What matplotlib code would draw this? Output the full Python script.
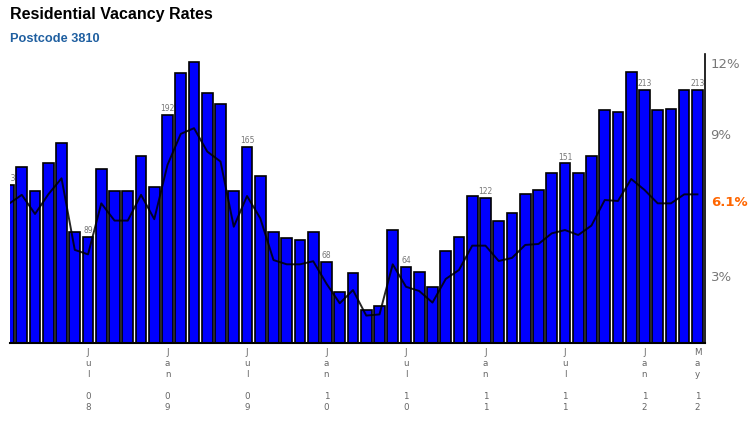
import matplotlib
matplotlib.use("Agg")
import matplotlib.pyplot as plt
from matplotlib.transforms import offset_copy

# ---- data ----
months = ["Jan 08", "Feb 08", "Mar 08", "Apr 08", "May 08", "Jun 08", "Jul 08", "Aug 08", "Sep 08", "Oct 08", "Nov 08", "Dec 08",
          "Jan 09", "Feb 09", "Mar 09", "Apr 09", "May 09", "Jun 09", "Jul 09", "Aug 09", "Sep 09", "Oct 09", "Nov 09", "Dec 09",
          "Jan 10", "Feb 10", "Mar 10", "Apr 10", "May 10", "Jun 10", "Jul 10", "Aug 10", "Sep 10", "Oct 10", "Nov 10", "Dec 10",
          "Jan 11", "Feb 11", "Mar 11", "Apr 11", "May 11", "Jun 11", "Jul 11", "Aug 11", "Sep 11", "Oct 11", "Nov 11", "Dec 11",
          "Jan 12", "Feb 12", "Mar 12", "Apr 12", "May 12"]
vacancies = [133, 148, 128, 151, 168, 93, 89, 146, 128, 128, 157, 131,
             192, 227, 236, 210, 201, 128, 165, 140, 93, 88, 87, 93,
             68, 43, 59, 28, 31, 95, 64, 60, 47, 77, 89, 124,
             122, 103, 109, 125, 129, 143, 151, 143, 157, 196, 194, 228,
             213, 196, 197, 213, 213]
rate = [6.05, 6.44, 5.63, 6.46, 7.14, 4.11, 3.92, 6.08, 5.35, 5.35, 6.44, 5.41,
        7.71, 9.02, 9.26, 8.27, 7.85, 5.09, 6.39, 5.45, 3.68, 3.50, 3.50, 3.63,
        2.68, 1.85, 2.41, 1.33, 1.38, 3.50, 2.55, 2.37, 1.88, 2.88, 3.26, 4.29,
        4.29, 3.64, 3.77, 4.32, 4.36, 4.81, 4.95, 4.74, 5.14, 6.22, 6.18, 7.11,
        6.65, 6.08, 6.08, 6.46, 6.46]
rate_ticks = [3, 9, 12]
rate_tick_labels = ["3%", "9%", "12%"]
current_rate = 6.1
current_label = "6.1%"
label_idx = [0, 6, 12, 18, 24, 30, 36, 42, 48, 52]
title = "Residential Vacancy Rates"
subtitle = "Postcode 3810"

W, H = 753, 423
fig = plt.figure(figsize=(W / 100, H / 100), dpi=100)
fig.patch.set_facecolor("white")

ax_l, ax_r, ax_t, ax_b = 10, 705, 54, 343
ax = fig.add_axes([ax_l / W, 1 - ax_b / H, (ax_r - ax_l) / W, (ax_b - ax_t) / H])
x = list(range(len(months)))
ax.bar(x, vacancies, width=0.8, color="#0000FF", edgecolor="black", linewidth=1.2, zorder=2)
ax.set_xlim(0.11, 52.57)
ax.set_ylim(0, 243)
ax.set_yticks([])
for s in ["top", "left", "right"]:
    ax.spines[s].set_visible(False)
ax.spines["bottom"].set_linewidth(1.5)

# bar value labels
for i in label_idx:
    ax.text(i, vacancies[i] + 1.5, str(vacancies[i]), ha="center", va="bottom",
            fontsize=5.5, color="#777777", clip_on=True, zorder=4)

# x tick labels (vertically stacked characters)
tick_idx = [i for i in range(len(months)) if months[i].startswith(("Jul", "Jan")) and i > 0] + [len(months) - 1]
ax.set_xticks(tick_idx)
ax.set_xticklabels(["\n".join(months[i][:3]) + "\n\n" + "\n".join(months[i][4:]) for i in tick_idx],
                   fontsize=6.3, color="#666666", linespacing=1.3)
ax.tick_params(axis="x", length=0, pad=3.5)

# rate axis
ax2 = ax.twinx()
ax2.plot(x, rate, color="black", linewidth=1.4, alpha=0.85, zorder=3)
ax2.set_ylim(0.17, 12.4)
ax2.set_yticks(rate_ticks)
ax2.set_yticklabels(rate_tick_labels, fontsize=9.5, color="#777777")
ax2.tick_params(axis="y", length=0, pad=4)
for s in ["top", "left", "bottom"]:
    ax2.spines[s].set_visible(False)
ax2.spines["right"].set_linewidth(1.2)
ax2.text(1.0, current_rate, current_label,
         transform=offset_copy(ax2.get_yaxis_transform(), fig=fig, x=6, y=0, units="dots"),
         ha="left", va="center", fontsize=9.5, fontweight="bold", color="#FF6600")

fig.text(10 / W, 1 - 14 / H, title, fontsize=11.5, fontweight="bold",
         family="Liberation Sans", color="black", va="center", ha="left")
fig.text(10 / W, 1 - 39 / H, subtitle, fontsize=9.2, fontweight="bold",
         family="Liberation Sans", color="#1F5FA0", va="center", ha="left")

fig.savefig("out.png", dpi=100)
